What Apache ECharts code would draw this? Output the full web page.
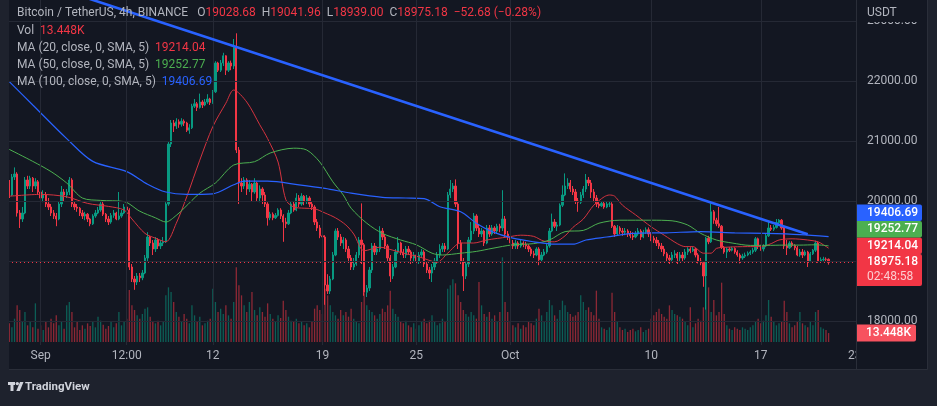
<!DOCTYPE html>
<html><head><meta charset="utf-8">
<script src="https://cdn.jsdelivr.net/npm/echarts@6/dist/echarts.min.js"></script>
<style>html,body{margin:0;padding:0;background:#1e222d;}#c{width:937px;height:406px;}</style>
</head><body><div id="c"></div>
<script>
// ---- DATA (4h candles, index 0 = Aug 29 00:00) : [open, close, low, high]
const candles = [
[20300,20100,20050,20350],[20100,20400,20080,20450],[20400,20450,20350,20560],[20450,19800,19740,20480],[19800,19700,19550,19850],
[19700,19800,19650,19900],[19800,20350,19780,20400],[20350,20250,20200,20420],[20250,20380,20200,20420],[20380,20250,20150,20400],
[20250,20320,20200,20380],[20320,20150,20100,20350],[20150,20050,19950,20200],[20050,20100,19980,20180],[20100,19950,19900,20150],
[19950,19900,19850,20050],[19900,19800,19750,19950],[19800,19750,19700,19850],[19750,19700,19580,19800],[19700,19950,19680,20000],
[19950,20150,19900,20250],[20150,20100,20000,20200],[20100,20150,20050,20200],[20150,20350,20100,20400],[20350,19950,19900,20380],
[19950,19900,19850,20000],[19900,19880,19820,19950],[19880,19800,19750,19900],[19800,19750,19700,19850],[19750,19780,19680,19820],
[19780,19700,19650,19800],[19700,19620,19580,19720],[19620,19750,19600,19780],[19750,19800,19720,19850],[19800,19850,19780,19900],
[19850,19950,19820,20000],[19950,19780,19750,20000],[19780,19700,19650,19800],[19700,19650,19600,19750],[19650,19760,19620,19800],
[19760,19800,19720,19850],[19800,19700,19680,19820],[19700,19750,19680,20150],[19750,19800,19720,19850],[19800,19900,19780,19950],
[19900,19850,19800,19950],[19850,18900,18850,19880],[18900,18700,18650,18950],[18700,18650,18520,18750],[18650,18750,18600,18800],
[18750,18720,18650,18800],[18720,18800,18680,18850],[18800,19050,18780,19100],[19050,19400,19000,19480],[19400,19300,19250,19420],
[19300,19200,19100,19350],[19200,19350,19150,19400],[19350,19250,19200,19380],[19250,19300,19200,19350],[19300,19320,19250,19400],
[19320,19950,19300,19980],[19950,20950,19920,21000],[20950,21300,20900,21350],[21300,21250,21150,21350],[21250,21320,21200,21380],
[21320,21280,21220,21360],[21280,21330,21240,21380],[21330,21300,21250,21360],[21300,21180,21150,21320],[21180,21220,21120,21280],
[21220,21580,21200,21620],[21580,21620,21550,21700],[21620,21560,21500,21650],[21560,21650,21540,21790],[21650,21600,21550,21680],
[21600,21650,21580,21700],[21650,21700,21620,21780],[21700,21640,21600,21720],[21640,21820,21620,21850],[21820,22300,21800,22330],
[22300,22180,22150,22320],[22180,22300,22150,22350],[22300,22420,22250,22470],[22420,22180,22100,22430],[22180,22300,22150,22330],
[22300,22250,22180,22340],[22250,22560,22200,22700],[22560,20850,20800,22795],[20850,20300,19950,20900],[20300,20250,20150,20380],
[20250,20350,20200,20400],[20350,20200,20100,20380],[20200,20280,20150,20350],[20280,20150,20000,20300],[20150,20300,20120,20380],
[20300,20050,19990,20320],[20050,20200,19980,20260],[20200,20100,19950,20230],[20100,19950,19900,20150],[19950,19720,19590,19980],
[19720,19780,19680,19820],[19780,19720,19680,19810],[19720,19760,19700,19800],[19760,19850,19740,19880],[19850,19750,19700,19880],
[19750,19650,19320,19780],[19650,19620,19550,19720],[19620,19800,19600,19850],[19800,19950,19780,20000],[19950,19850,19820,20000],
[19850,20050,19830,20130],[20050,19950,19900,20100],[19950,20080,19920,20130],[20080,20000,19930,20100],[20000,20050,19950,20100],
[20050,19950,19900,20080],[19950,19900,19850,20000],[19900,19650,19600,19930],[19650,19550,19500,19700],[19550,19420,19380,19600],
[19420,19400,19350,19480],[19400,18600,18270,19430],[18600,18500,18450,18780],[18500,18700,18450,18750],[18700,19100,18680,19150],
[19100,19500,19080,19540],[19500,19400,19350,19550],[19400,19300,19250,19450],[19300,19350,19200,19400],[19350,19200,19150,19380],
[19200,19050,18980,19250],[19050,18900,18850,19100],[18900,18950,18850,19050],[18950,19100,18920,19150],[19100,19350,19050,19400],
[19350,19270,18950,19960],[19270,18480,18420,19300],[18480,18550,18400,18600],[18550,18850,18500,18900],[18850,19250,18800,19300],
[19250,19150,19100,19300],[19150,19200,19100,19250],[19200,19500,19150,19580],[19500,19400,19350,19550],[19400,19250,19200,19450],
[19250,19050,19000,19280],[19050,18750,18650,19100],[18750,18900,18700,18950],[18900,19150,18880,19200],[19150,19300,19120,19400],
[19300,19150,19100,19320],[19150,19100,19050,19200],[19100,19200,19050,19250],[19200,19150,19100,19250],[19150,19050,18950,19180],
[19050,19100,18980,19150],[19100,19000,18950,19120],[19000,19100,18950,19150],[19100,19150,19050,19200],[19150,18950,18900,19180],
[18950,18850,18800,19000],[18850,18800,18700,18900],[18800,18900,18650,18950],[18900,19000,18850,19050],[19000,19100,18950,19150],
[19100,19200,19050,19280],[19200,19250,19150,19300],[19250,19200,19150,19300],[19200,20100,19180,20150],[20100,20200,20050,20350],
[20200,20250,20150,20300],[20250,19950,19900,20360],[19950,19300,19200,19980],[19300,19000,18950,19350],[19000,18750,18500,19050],
[18750,18950,18700,19000],[18950,19350,18900,19400],[19350,19500,19300,19650],[19500,19750,19450,19800],[19750,19550,19500,19780],
[19550,19450,19400,19600],[19450,19500,19400,19550],[19500,19300,19250,19520],[19300,19550,19280,19600],[19550,19450,19400,19600],
[19450,19550,19420,19600],[19550,19500,19450,19580],[19500,19580,19450,19620],[19580,19550,19480,19620],[19550,19700,19500,20180],
[19700,19450,19400,19750],[19450,19400,19350,19500],[19400,19300,19250,19450],[19300,19250,19200,19350],[19250,19300,19200,19350],
[19300,19250,19200,19330],[19250,19300,19220,19350],[19300,19280,19230,19330],[19280,19250,19200,19320],[19250,19200,19150,19280],
[19200,19120,19080,19230],[19120,19100,19050,19170],[19100,19200,19080,19230],[19200,19020,18930,19230],[19020,19100,19000,19150],
[19100,19150,19080,19200],[19150,19250,19120,19300],[19250,19500,19220,19550],[19500,19650,19480,19790],[19650,19580,19550,19700],
[19580,19600,19500,19650],[19600,19930,19580,19960],[19930,20100,19900,20260],[20100,20250,20080,20460],[20250,20300,20200,20380],
[20300,20200,20150,20350],[20200,20150,20100,20250],[20150,20000,19950,20200],[20000,19980,19820,20050],[19980,20100,19950,20150],
[20100,20200,20050,20250],[20200,20350,20150,20450],[20350,20300,20250,20400],[20300,20150,20050,20350],[20150,20050,19980,20200],
[20050,19950,19900,20100],[19950,19920,19880,20000],[19920,19960,19900,20000],[19960,19900,19870,20000],[19900,19950,19880,20000],
[19950,19950,19900,19990],[19950,19580,19550,19980],[19580,19450,19400,19600],[19450,19550,19420,19600],[19550,19500,19450,19580],
[19500,19480,19420,19550],[19480,19500,19430,19550],[19500,19450,19400,19530],[19450,19420,19380,19500],[19420,19400,19350,19480],
[19400,19450,19380,19500],[19450,19500,19420,19550],[19500,19400,19350,19530],[19400,19480,19380,19520],[19480,19520,19450,19560],
[19520,19450,19400,19560],[19450,19380,19330,19480],[19380,19350,19300,19420],[19350,19300,19250,19400],[19300,19250,19200,19350],
[19250,19200,19150,19300],[19200,19120,19080,19250],[19120,19050,19000,19150],[19050,19020,18950,19100],[19020,19100,18980,19150],
[19100,19120,19050,19180],[19120,19050,18950,19150],[19050,19100,19000,19150],[19100,19050,19000,19150],[19050,19150,19020,19200],
[19150,19200,19100,19230],[19200,19170,19130,19230],[19170,19200,19150,19240],[19200,19100,19060,19220],[19100,19000,18960,19130],
[19000,18970,18930,19050],[18970,18750,18570,19000],[18750,19380,18190,19400],[19380,19320,19280,19420],[19320,19820,19300,19960],
[19820,19680,19620,19850],[19680,19620,19580,19720],[19620,19580,19550,19900],[19580,19230,19200,19600],[19230,19150,19120,19250],
[19150,19200,19050,19230],[19200,19180,19150,19230],[19180,19210,19160,19240],[19210,19150,19120,19230],[19150,19100,19070,19180],
[19100,19050,18960,19130],[19050,19080,19020,19120],[19080,19100,19050,19140],[19100,19130,19080,19160],[19130,19150,19100,19180],
[19150,19180,19120,19220],[19180,19370,19150,19400],[19370,19250,19200,19390],[19250,19200,19170,19270],[19200,19250,19160,19280],
[19250,19420,19230,19450],[19420,19550,19400,19650],[19550,19530,19500,19600],[19530,19560,19500,19600],[19560,19640,19540,19700],
[19640,19680,19600,19700],[19680,19550,19520,19700],[19550,19250,19200,19580],[19250,19220,19100,19350],[19220,19300,19200,19330],
[19300,19260,19230,19330],[19260,19220,19180,19280],[19220,19100,19080,19250],[19100,19150,19070,19200],[19150,19100,19050,19200],
[19100,19150,19080,19180],[19150,19000,18900,19170],[19000,19120,18980,19150],[19120,19180,19100,19200],[19180,19300,19150,19340],
[19300,19000,18970,19320],[19000,19020,18980,19060],[19020,19030,18990,19070],[19030,19028.68,18990,19060],[19028.68,18975.18,18939.00,19041.96]
];
// volume in thousands (K)
const volumes = [
28,22,35,55,48,30,45,25,30,22,58,20,25,18,30,22,35,28,40,25,30,20,55,60,45,22,30,18,25,20,28,24,30,22,38,32,26,20,24,30,22,28,45,25,30,35,
78,55,48,40,35,42,50,52,38,30,28,32,25,30,70,82,75,60,
45,38,30,42,35,28,55,40,30,38,25,28,32,35,80,60,45,50,42,55,40,35,60,
112,
85,70,55,45,60,75,48,40,52,45,38,58,42,35,30,40,36,62,48,38,32,30,35,28,30,25,28,22,30,50,55,48,42,80,70,55,45,40,35,48,40,
45,38,50,35,30,28,60,73,55,48,45,40,35,42,50,45,55,77,50,42,38,30,28,32,25,22,28,20,25,30,35,28,32,40,30,25,28,35,30,80,85,94,88,70,60,48,42,38,45,40,35,90,55,42,38,45,35,40,30,45,127,60,45,
30,25,22,28,20,25,22,30,28,25,35,50,40,30,45,63,55,40,35,48,62,55,45,42,38,40,45,70,60,48,52,45,40,77,35,22,20,18,22,74,45,30,22,18,20,15,18,20,16,18,22,15,18,20,35,40,45,50,42,38,35,55,48,42,40,38,35,30,
25,52,22,28,35,32,52,97,82,45,63,40,45,89,42,25,20,18,22,20,18,22,20,18,22,25,30,35,28,32,40,63,38,30,25,28,30,62,45,28,22,25,30,45,28,25,22,30,25,45,48,22,20,18,13.448
];
// moving averages read at sample candles: [index, value]
const ma20 = [[0,20080],[12,20110],[22,20070],[30,19960],[38,19910],[44,19850],[47,19700],[52,19460],[56,19380],[60,19320],[64,19630],[68,20070],[73,20680],[78,21240],[83,21630],[86,21850],[91,21650],[96,21270],[99,21040],[103,20650],[106,20020],[109,19900],[113,19880],[117,19870],[121,19800],[125,19720],[129,19600],[132,19450],[136,19170],[142,19230],[147,19180],[152,19120],[157,19070],[164,18980],[168,19130],[173,19300],[178,19300],[183,19350],[191,19400],[196,19430],[201,19410],[205,19330],[209,19320],[213,19420],[216,19560],[220,19700],[224,19930],[228,20070],[230,20100],[232,20080],[235,19930],[240,19770],[246,19570],[251,19430],[256,19290],[259,19240],[262,19240],[266,19130],[269,19130],[271,19210],[275,19230],[283,19240],[288,19240],[292,19290],[295,19350],[300,19370],[306,19350],[310,19320],[312,19270],[314,19214.04]];
const ma50 = [[0,20860],[9,20660],[16,20490],[22,20300],[28,20050],[35,20010],[44,19990],[50,19830],[56,19720],[60,19650],[64,19760],[67,19880],[73,20130],[79,20300],[86,20600],[94,20655],[100,20800],[109,20880],[114,20850],[119,20650],[124,20320],[128,20100],[131,19880],[137,19630],[143,19460],[150,19350],[156,19270],[162,19130],[166,19100],[173,19130],[179,19160],[185,19210],[193,19270],[201,19290],[207,19350],[213,19490],[220,19510],[226,19630],[234,19680],[246,19680],[254,19670],[260,19600],[265,19460],[271,19350],[277,19300],[284,19260],[290,19260],[297,19265],[303,19265],[309,19270],[314,19252.77]];
const ma100 = [[0,21990],[9,21600],[22,21040],[32,20660],[45,20490],[53,20280],[60,20150],[68,20110],[78,20120],[86,20270],[90,20330],[99,20330],[111,20270],[121,20210],[131,20130],[143,20060],[152,20050],[159,20040],[165,19905],[173,19820],[179,19630],[185,19490],[193,19380],[201,19320],[209,19280],[216,19280],[221,19350],[229,19400],[239,19460],[252,19470],[265,19490],[278,19470],[290,19460],[303,19440],[314,19406.69]];
const trendLine = [[0,23807],[306,19446]];
const tickIndex = [12,45,78,120,156,192,246,288,324];
const tickLabels = ['Sep','12:00','12','19','25','Oct','10','17','23'];
const priceTicks = [18000,19000,20000,21000,22000,23000];
const lastBar = {o:19028.68,h:19041.96,l:18939.00,c:18975.18,chg:'\u221252.68',pct:'(\u22120.28%)'};
const lastVol = 13.448;
const maLast = [19214.04,19252.77,19406.69];
const countdown = '02:48:58';
const N = 325;

(function(){
const UP='#089981', DOWN='#F23645', TXT='#b2b5be', GRID='#252935', PANE='#131722', OUT='#1e222d', EDGE='#2a2e39';
const C20='#d4333f', C50='#4caf50', C100='#2962ff';
const FONT='Roboto';
const cats = Array.from({length:N},(_,i)=>String(i));

const chart = echarts.init(document.getElementById('c'));
const volData = volumes.map((v,i)=>({value:v,itemStyle:{color: candles[i][1]>=candles[i][0]?'rgba(8,153,129,0.55)':'rgba(242,54,69,0.55)'}}));

const option = {
  animation:false,
  backgroundColor:PANE,
  grid:[{left:8,width:848,top:0,height:345},{left:8,width:848,top:242,height:100}],
  xAxis:[
    {type:'category',data:cats,gridIndex:0,boundaryGap:true,axisLine:{show:false},axisTick:{show:false},axisLabel:{show:false},splitLine:{show:false}},
    {type:'category',data:cats,gridIndex:1,boundaryGap:true,axisLine:{show:false},axisTick:{show:false},splitLine:{show:false},
      axisLabel:{show:true,interval:(i)=>tickIndex.indexOf(i)>=0,formatter:(v,i)=>{const k=tickIndex.indexOf(i);return k>=0?tickLabels[k]:'';},
        color:TXT,fontSize:12,fontFamily:FONT,margin:8}}
  ],
  yAxis:[
    {type:'value',gridIndex:0,position:'right',min:17600,max:23350,interval:50,axisLine:{show:false},axisTick:{show:false},splitLine:{show:false},
      axisLabel:{margin:11,color:TXT,fontSize:12,fontFamily:FONT,showMinLabel:true,showMaxLabel:true,formatter:(v)=>priceTicks.indexOf(v)>=0?v.toFixed(2):''}},
    {type:'value',gridIndex:1,min:0,max:150,show:false}
  ],
  series:[
    {type:'line',xAxisIndex:0,yAxisIndex:0,data:[],z:1,silent:true,
      markLine:{silent:true,symbol:['none','none'],label:{show:false},animation:false,
        lineStyle:{color:GRID,width:1,type:'solid'},
        data:[...priceTicks.map(v=>({yAxis:v})),...tickIndex.slice(0,8).map(i=>({xAxis:i}))]}},
    {type:'bar',xAxisIndex:1,yAxisIndex:1,data:volData,barWidth:1.3,z:1,silent:true},
    {type:'candlestick',xAxisIndex:0,yAxisIndex:0,data:candles,barWidth:1.8,z:3,silent:true,
      itemStyle:{color:UP,color0:DOWN,borderColor:UP,borderColor0:DOWN,borderWidth:1},
      markLine:{silent:true,symbol:['none','none'],label:{show:false},lineStyle:{color:DOWN,width:1,type:[1,3]},data:[{yAxis:lastBar.c}]}},
    {type:'line',xAxisIndex:0,yAxisIndex:0,data:ma20,smooth:0.3,showSymbol:false,z:4,silent:true,lineStyle:{color:C20,width:1}},
    {type:'line',xAxisIndex:0,yAxisIndex:0,data:ma50,smooth:0.3,showSymbol:false,z:4,silent:true,lineStyle:{color:C50,width:1}},
    {type:'line',xAxisIndex:0,yAxisIndex:0,data:ma100,smooth:0.3,showSymbol:false,z:4,silent:true,lineStyle:{color:C100,width:1.2}},
    {type:'line',xAxisIndex:0,yAxisIndex:0,data:trendLine,showSymbol:false,z:5,silent:true,clip:false,lineStyle:{color:'#2962ff',width:2.6}}
  ]
};
chart.setOption(option);

function txt(x,y,text,fill,extra){return {type:'text',z:120,silent:true,style:Object.assign({x:x,y:y,text:text,fill:fill,fontSize:12,fontFamily:FONT,verticalAlign:'middle',align:'left'},extra||{})};}
function rect(x,y,w,h,fill,z,r){return {type:'rect',z:z||110,silent:true,shape:{x:x,y:y,width:w,height:h,r:r||0},style:{fill:fill}};}

const els = [];
els.push(rect(0,0,9,406,OUT,105));
els.push(rect(927,0,10,406,OUT,105));
els.push(rect(0,369,937,37,OUT,105));
els.push({type:'line',z:106,silent:true,shape:{x1:927.5,y1:0,x2:927.5,y2:369.5},style:{stroke:EDGE,lineWidth:1}});
els.push({type:'line',z:106,silent:true,shape:{x1:9,y1:369.5,x2:927.5,y2:369.5},style:{stroke:EDGE,lineWidth:1}});
els.push(rect(856.5,345,70,24,PANE,108));
els.push(rect(856.5,0,70,22,PANE,108));
els.push({type:'line',z:109,silent:true,shape:{x1:856.5,y1:0,x2:856.5,y2:369},style:{stroke:EDGE,lineWidth:1}});
els.push(txt(867,13,'USDT',TXT));
const rich={t:{fill:TXT,fontSize:12,fontFamily:FONT},r:{fill:DOWN,fontSize:12,fontFamily:FONT},g:{fill:C50,fontSize:12,fontFamily:FONT},b:{fill:C100,fontSize:12,fontFamily:FONT},s:{width:9},s2:{width:6}};
els.push(txt(17,13,'{t|Bitcoin / TetherUS, 4h, BINANCE}{s|}{t|O}{r|'+lastBar.o.toFixed(2)+'}{s2|}{t|H}{r|'+lastBar.h.toFixed(2)+'}{s2|}{t|L}{r|'+lastBar.l.toFixed(2)+'}{s2|}{t|C}{r|'+lastBar.c.toFixed(2)+'}{s2|}{r|'+lastBar.chg+' '+lastBar.pct+'}',TXT,{rich:rich}));
els.push(txt(17,31,'{t|Vol}  {r|'+lastVol.toFixed(3)+'K}',TXT,{rich:rich}));
els.push(txt(17,48,'{t|MA (20, close, 0, SMA, 5)}  {r|'+maLast[0].toFixed(2)+'}',TXT,{rich:rich}));
els.push(txt(17,65,'{t|MA (50, close, 0, SMA, 5)}  {g|'+maLast[1].toFixed(2)+'}',TXT,{rich:rich}));
els.push(txt(17,82,'{t|MA (100, close, 0, SMA, 5)}  {b|'+maLast[2].toFixed(2)+'}',TXT,{rich:rich}));
const py = v=>chart.convertToPixel({yAxisIndex:0},v);
const cy = py(lastBar.c);
let tagTop = cy-8.5;
els.push(rect(857,tagTop,65,32,DOWN,115,[0,2,2,0]));
els.push(txt(867,cy,lastBar.c.toFixed(2),'#ffffff',{fontWeight:500}));
els.push(txt(867,cy+15,countdown,'rgba(255,255,255,0.75)'));
const tagCols=[DOWN,C50,C100];
const H=16.5;
maLast.forEach((v,k)=>{
  const c=Math.min(py(v),tagTop-H/2);
  tagTop=c-H/2;
  els.push(rect(857,tagTop,65,H,tagCols[k],115,[0,2,2,0]));
  els.push(txt(867,c,v.toFixed(2),'#ffffff',{fontWeight:500}));
});
const vy = chart.convertToPixel({yAxisIndex:1},lastVol);
els.push(rect(857,vy-8.5,59,17,'#f7525f',115,[0,2,2,0]));
els.push(txt(866,vy,lastVol.toFixed(3)+'K','#ffffff',{fontWeight:500}));
els.push({type:'polygon',z:120,silent:true,shape:{points:[[8,382],[15,382],[15,385],[13.5,385],[13.5,391],[10.5,391],[10.5,385],[8,385]]},style:{fill:'#d1d4dc'}});
els.push({type:'circle',z:120,silent:true,shape:{cx:17.3,cy:383.6,r:1.7},style:{fill:'#d1d4dc'}});
els.push({type:'polygon',z:120,silent:true,shape:{points:[[20,382],[23.5,382],[19.8,391],[16.3,391]]},style:{fill:'#d1d4dc'}});
els.push(txt(25,387,'TradingView','#d1d4dc',{fontSize:11.5,fontWeight:'bold'}));
chart.setOption({graphic:{elements:els}});
})();
</script>
</body></html>
